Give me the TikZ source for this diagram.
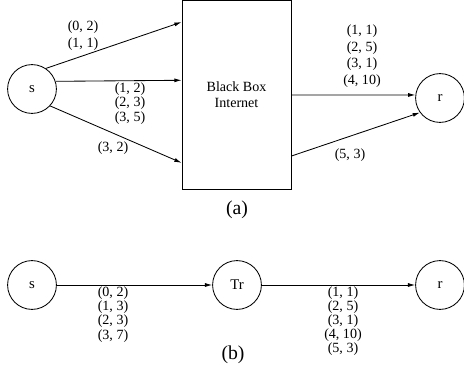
\documentclass[tikz,border=0pt]{standalone}
\usepackage{fontspec}
\setmainfont{Liberation Serif}
\usetikzlibrary{arrows.meta, positioning}
\tikzset{
  station/.style={draw, circle, line width=0.6pt, minimum size=1.22cm, inner sep=0pt, font=\fontsize{10.5}{10}\selectfont},
  blackbox/.style={draw, rectangle, line width=0.6pt, minimum width=2.725cm, minimum height=4.725cm, align=center, font=\fontsize{10}{11.4}\selectfont},
  pairs/.style={align=center, inner sep=0pt, font=\fontsize{10}{8.6}\selectfont},
  widepairs/.style={align=center, inner sep=0pt, font=\fontsize{10}{11.9}\selectfont},
  caption/.style={inner sep=0pt, font=\fontsize{14}{14}\selectfont}
}

\begin{document}
\begin{tikzpicture}[
  x=0.025cm, y=-0.025cm,
  flow/.style={-{Latex[length=1.8mm, width=1mm]}, line width=0.6pt}
]
\useasboundingbox (0,0) rectangle (464,373);
\node[station] (sa) at (32,89) {s};
\node[blackbox] (box) at (236.5,95) {Black Box\\Internet};
\node[station] (ra) at (440,98) {r};
\node[widepairs] (up) at (83,35.5) {(0, 2)\\(1, 1)};
\node[pairs] (mid) at (130,103.5) {(1, 2)\\(2, 3)\\(3, 5)};
\node[pairs] (low) at (113,148) {(3, 2)};
\node[widepairs] (out) at (362,56) {(1, 1)\\(2, 5)\\(3, 1)\\(4, 10)};
\node[pairs] (outlow) at (350,155) {(5, 3)};
\node[caption] (capa) at (237,210) {(a)};
\draw[flow] (sa.56) -- (box.127.3);
\draw[flow] (sa.18) -- (box.165.1);
\draw[flow] (sa.-43) -- (box.231.1);
\draw[flow] (box.0) -- (ra.173);
\draw[flow] (box.312.5) -- (ra.216);

\node[station] (sb) at (32,285) {s};
\node[station] (tr) at (237,285) {Tr};
\node[station] (rb) at (440,285) {r};
\node[pairs] (left) at (113,314.5) {(0, 2)\\(1, 3)\\(2, 3)\\(3, 7)};
\node[pairs] (right) at (343,321) {(1, 1)\\(2, 5)\\(3, 1)\\(4, 10)\\(5, 3)};
\node[caption] (capb) at (233,355) {(b)};
\draw[flow] (sb) -- (tr);
\draw[flow] (tr) -- (rb);
\end{tikzpicture}
\end{document}
